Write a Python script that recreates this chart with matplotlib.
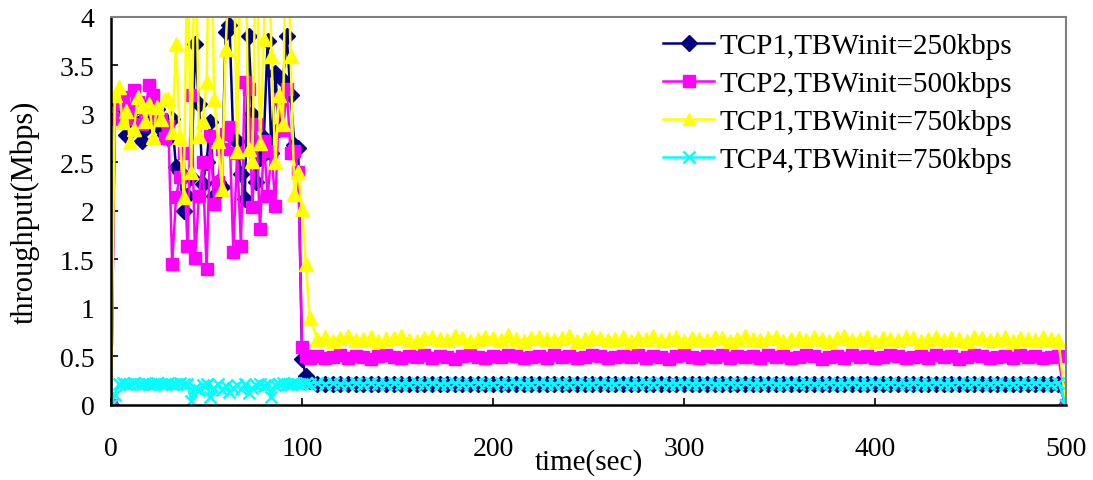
import numpy as np
import matplotlib
matplotlib.use("Agg")
import matplotlib.pyplot as plt

plt.rcParams["font.family"] = ["Liberation Serif", "DejaVu Serif"]

# time axis: every 2 s up to 104 s, every 4 s after that, last sample at 500 s
time_early = np.arange(0, 105, 2)
time_steady = np.arange(108, 497, 4)
time_end = [500]

tcp1_250_early = [0, 3.15, 3.10, 2.95, 2.78, 2.95, 3.05, 2.90, 2.72, 2.85,
                  3.10, 2.95, 3.05, 2.85, 2.78, 2.75, 2.95, 2.45, 2.40, 2.00,
                  2.15, 2.35, 3.72, 3.10, 2.28, 2.50, 2.92, 2.15, 2.30, 2.25,
                  3.85, 3.92, 2.75, 2.72, 2.38, 2.12, 3.80, 3.00, 2.30, 2.55,
                  2.75, 3.75, 2.60, 3.42, 2.85, 3.35, 3.80, 3.20, 2.68, 2.65,
                  0.47, 0.30, 0.25]
tcp2_500_early = [0, 2.95, 3.10, 3.18, 2.95, 3.05, 3.25, 3.12, 2.90, 3.05,
                  3.30, 3.20, 2.98, 2.95, 2.75, 2.88, 1.45, 2.14, 2.35, 2.60,
                  1.64, 3.20, 1.52, 2.15, 2.50, 1.40, 2.77, 2.07, 2.30, 2.64,
                  2.79, 2.87, 1.58, 2.60, 1.64, 3.33, 3.26, 2.04, 2.90, 1.81,
                  2.72, 2.15, 2.62, 2.05, 3.15, 2.83, 3.26, 2.60, 2.62, 2.40,
                  0.60, 0.50, 0.48]
tcp1_750_early = [0, 3.20, 3.28, 2.92, 3.03, 2.71, 2.85, 3.17, 3.08, 2.93,
                  3.10, 2.76, 3.07, 2.95, 3.15, 3.15, 2.81, 3.72, 2.76, 2.14,
                  4.80, 2.40, 5.20, 2.77, 2.93, 3.33, 5.50, 3.15, 2.72, 2.23,
                  3.67, 4.60, 5.00, 2.62, 4.80, 5.40, 2.64, 2.52, 5.00, 2.70,
                  3.77, 5.20, 3.60, 2.50, 3.20, 2.90, 5.50, 3.60, 2.17, 2.40,
                  2.02, 1.45, 0.90]
tcp4_750_early = [0, 0.10, 0.22, 0.23, 0.22, 0.22, 0.23, 0.22, 0.22, 0.23,
                  0.22, 0.22, 0.23, 0.22, 0.22, 0.23, 0.22, 0.22, 0.23, 0.22,
                  0.22, 0.04, 0.18, 0.15, 0.21, 0.22, 0.08, 0.17, 0.22, 0.15,
                  0.20, 0.13, 0.17, 0.21, 0.16, 0.22, 0.12, 0.18, 0.21, 0.22,
                  0.20, 0.22, 0.08, 0.21, 0.22, 0.23, 0.22, 0.22, 0.23, 0.22,
                  0.22, 0.23, 0.22]

tcp1_250_steady = [0.22, 0.22, 0.22, 0.22, 0.22, 0.22, 0.22, 0.22, 0.22, 0.22,
                   0.22, 0.22, 0.22, 0.22, 0.22, 0.22, 0.22, 0.22, 0.22, 0.22,
                   0.22, 0.22, 0.22, 0.22, 0.22, 0.22, 0.22, 0.22, 0.22, 0.22,
                   0.22, 0.22, 0.22, 0.22, 0.22, 0.22, 0.22, 0.22, 0.22, 0.22,
                   0.22, 0.22, 0.22, 0.22, 0.22, 0.22, 0.22, 0.22, 0.22, 0.22,
                   0.22, 0.22, 0.22, 0.22, 0.22, 0.22, 0.22, 0.22, 0.22, 0.22,
                   0.22, 0.22, 0.22, 0.22, 0.22, 0.22, 0.22, 0.22, 0.22, 0.22,
                   0.22, 0.22, 0.22, 0.22, 0.22, 0.22, 0.22, 0.22, 0.22, 0.22,
                   0.22, 0.22, 0.22, 0.22, 0.22, 0.22, 0.22, 0.22, 0.22, 0.22,
                   0.22, 0.22, 0.22, 0.22, 0.22, 0.22, 0.22, 0.22]
tcp2_500_steady = [0.50, 0.48, 0.49, 0.51, 0.48, 0.50, 0.49, 0.47, 0.50, 0.51,
                   0.49, 0.48, 0.50, 0.49, 0.51, 0.48, 0.50, 0.49, 0.47, 0.50,
                   0.51, 0.49, 0.48, 0.50, 0.49, 0.51, 0.50, 0.48, 0.49, 0.50,
                   0.48, 0.51, 0.49, 0.50, 0.48, 0.49, 0.51, 0.50, 0.48, 0.49,
                   0.50, 0.49, 0.51, 0.48, 0.50, 0.49, 0.47, 0.50, 0.51, 0.49,
                   0.48, 0.50, 0.49, 0.51, 0.48, 0.50, 0.49, 0.50, 0.48, 0.51,
                   0.49, 0.50, 0.48, 0.49, 0.51, 0.50, 0.47, 0.49, 0.50, 0.48,
                   0.51, 0.49, 0.50, 0.48, 0.49, 0.51, 0.50, 0.48, 0.49, 0.50,
                   0.48, 0.51, 0.49, 0.50, 0.47, 0.49, 0.51, 0.50, 0.48, 0.49,
                   0.50, 0.48, 0.51, 0.49, 0.50, 0.48, 0.49, 0.50]
tcp1_750_steady = [0.68, 0.70, 0.66, 0.69, 0.71, 0.67, 0.68, 0.70, 0.66, 0.68,
                   0.69, 0.71, 0.67, 0.66, 0.69, 0.70, 0.68, 0.67, 0.71, 0.69,
                   0.66, 0.68, 0.70, 0.69, 0.67, 0.72, 0.68, 0.66, 0.69, 0.70,
                   0.68, 0.67, 0.69, 0.71, 0.66, 0.68, 0.70, 0.69, 0.67, 0.68,
                   0.70, 0.66, 0.69, 0.68, 0.71, 0.67, 0.68, 0.70, 0.66, 0.69,
                   0.68, 0.67, 0.70, 0.69, 0.66, 0.68, 0.71, 0.68, 0.67, 0.69,
                   0.70, 0.66, 0.68, 0.69, 0.67, 0.70, 0.68, 0.66, 0.69, 0.71,
                   0.67, 0.68, 0.70, 0.66, 0.69, 0.68, 0.67, 0.70, 0.69, 0.66,
                   0.68, 0.70, 0.67, 0.69, 0.68, 0.66, 0.70, 0.69, 0.67, 0.68,
                   0.70, 0.66, 0.69, 0.68, 0.67, 0.70, 0.68, 0.67]
tcp4_750_steady = [0.23, 0.22, 0.23, 0.22, 0.22, 0.23, 0.22, 0.23, 0.22, 0.22,
                   0.23, 0.22, 0.22, 0.23, 0.22, 0.23, 0.22, 0.22, 0.23, 0.22,
                   0.22, 0.23, 0.22, 0.22, 0.23, 0.22, 0.23, 0.22, 0.22, 0.23,
                   0.22, 0.22, 0.23, 0.22, 0.23, 0.22, 0.22, 0.23, 0.22, 0.22,
                   0.23, 0.22, 0.22, 0.23, 0.22, 0.23, 0.22, 0.22, 0.23, 0.22,
                   0.22, 0.23, 0.22, 0.22, 0.23, 0.22, 0.23, 0.22, 0.22, 0.23,
                   0.22, 0.22, 0.23, 0.22, 0.23, 0.22, 0.22, 0.23, 0.22, 0.22,
                   0.23, 0.22, 0.22, 0.23, 0.22, 0.23, 0.22, 0.22, 0.23, 0.22,
                   0.22, 0.23, 0.22, 0.22, 0.23, 0.22, 0.23, 0.22, 0.22, 0.23,
                   0.22, 0.22, 0.23, 0.22, 0.23, 0.22, 0.22, 0.23]
end_value = [0]

series_labels = ["TCP1,TBWinit=250kbps", "TCP2,TBWinit=500kbps",
                 "TCP1,TBWinit=750kbps", "TCP4,TBWinit=750kbps"]

time = np.concatenate([time_early, time_steady, time_end])
series = [
    tcp1_250_early + tcp1_250_steady + end_value,
    tcp2_500_early + tcp2_500_steady + end_value,
    tcp1_750_early + tcp1_750_steady + end_value,
    tcp4_750_early + tcp4_750_steady + end_value,
]
styles = [
    dict(color="#000080", marker="D", markersize=8),
    dict(color="#FF00FF", marker="s", markersize=8.5),
    dict(color="#FFFF00", marker="^", markersize=10.5),
    dict(color="#00FFFF", marker="x", markersize=8.5, markeredgewidth=1.8),
]

fig = plt.figure(figsize=(10.93, 4.81), dpi=100)
ax = fig.add_axes([0.1016, 0.156, 0.8737, 0.8066])

for values, label, style in zip(series, series_labels, styles):
    ax.plot(time, values, label=label, linewidth=1.8, **style)

ax.set_xlim(0, 500)
ax.set_ylim(0, 4)
ax.set_xticks([0, 100, 200, 300, 400, 500])
ax.set_yticks([0, 0.5, 1, 1.5, 2, 2.5, 3, 3.5, 4])
ax.set_yticklabels(["0", "0.5", "1", "1.5", "2", "2.5", "3", "3.5", "4"])
ax.tick_params(axis="both", direction="in", length=5, width=1.2, labelsize=20)
ax.tick_params(axis="x", pad=22)
ax.tick_params(axis="y", pad=12)

for side in ["left", "bottom"]:
    ax.spines[side].set_color("black")
    ax.spines[side].set_linewidth(1.8)
for side in ["top", "right"]:
    ax.spines[side].set_color("#808080")
    ax.spines[side].set_linewidth(1.5)

ax.set_xlabel("time(sec)", fontsize=21, labelpad=-9)
ax.set_ylabel("throughput(Mbps)", fontsize=22, labelpad=14)

leg = ax.legend(loc="upper left", bbox_to_anchor=(0.596, 0.955), bbox_transform=fig.transFigure,
                frameon=False, fontsize=21, handlelength=1.75, handletextpad=0.2,
                labelspacing=0.4, borderaxespad=0)
for h in leg.legend_handles:
    h.set_markersize(8)

plt.savefig("out.png", dpi=100)
